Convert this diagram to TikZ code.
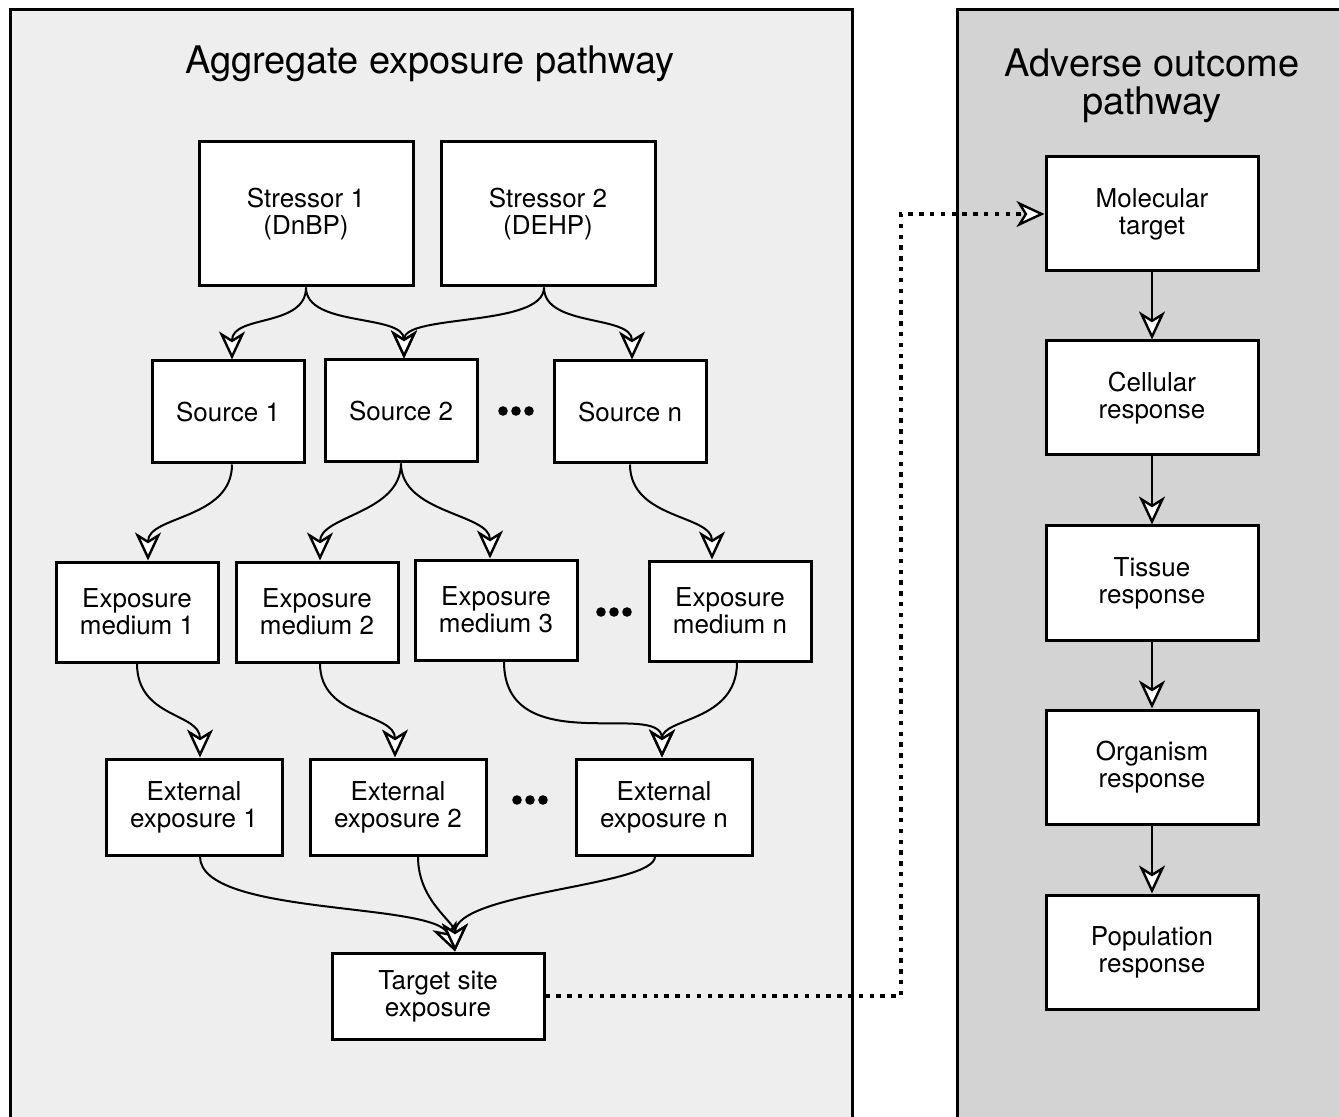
\documentclass[tikz,border=0pt]{standalone}
\usepackage{fontspec}
\setmainfont{TeX Gyre Heros}
\usetikzlibrary{arrows.meta}

\begin{document}
\begin{tikzpicture}[x=0.5pt, y=-0.5pt,
    box/.style={draw, line width=1.5pt, fill=white, align=center, inner sep=0pt,
      font=\fontsize{13}{13.5}\selectfont},
    flow/.style={line width=1pt, -{Stealth[fill=white, length=14pt, width=13pt, inset=4pt, line width=1.2pt]}},
    link/.style={flow, line width=2.2pt, dash pattern=on 2.2pt off 3.2pt},
    panel/.style={draw, line width=1.5pt},
    title/.style={align=center, font=\fontsize{19}{19}\selectfont}]
    \clip (0,0) rectangle (1339,1117);

    % Panels
    \draw[panel, fill={rgb,255:red,238;green,238;blue,238}] (10,10) rectangle (852,1140);
    \draw[panel, fill={rgb,255:red,211;green,211;blue,211}] (957,10) rectangle (1360,1140);
    \node[title] (aep) at (430,64) {Aggregate exposure pathway};
    \node[title] (aop) at (1152,86) {Adverse outcome\\pathway};

    % Stressors
    \node[box, minimum width=107pt, minimum height=72pt] (stressA) at (306,214) {Stressor 1\\(DnBP)};
    \node[box, minimum width=107pt, minimum height=72pt] (stressB) at (548,214) {Stressor 2\\(DEHP)};

    % Sources
    \node[box, minimum width=76pt, minimum height=51pt] (srcA) at (228,412) {Source 1};
    \node[box, minimum width=76pt, minimum height=51pt] (srcB) at (401,411) {Source 2};
    \node[box, minimum width=76pt, minimum height=51pt] (srcN) at (630,412) {Source n};

    % Exposure media
    \node[box, minimum width=81pt, minimum height=50pt] (medA) at (137,612) {Exposure\\medium 1};
    \node[box, minimum width=81pt, minimum height=50pt] (medB) at (317,612) {Exposure\\medium 2};
    \node[box, minimum width=81pt, minimum height=50pt] (medC) at (496,610) {Exposure\\medium 3};
    \node[box, minimum width=81pt, minimum height=50pt] (medN) at (730,611) {Exposure\\medium n};

    % External exposures
    \node[box, minimum width=88pt, minimum height=48pt] (extA) at (194,807) {External\\exposure 1};
    \node[box, minimum width=88pt, minimum height=48pt] (extB) at (398,807) {External\\exposure 2};
    \node[box, minimum width=88pt, minimum height=48pt] (extN) at (664,807) {External\\exposure n};

    % Target site
    \node[box, minimum width=106pt, minimum height=43pt] (target) at (438,996) {Target site\\exposure};

    % Dots
    \foreach \cx/\cy in {516/411, 614/612, 530/800}
      \foreach \d in {-13,0,13}
        \fill (\cx+\d,\cy) circle (2.4pt);

    % Adverse outcome chain
    \node[box, minimum width=106pt, minimum height=57pt] (molec) at (1152,214) {Molecular\\target};
    \node[box, minimum width=106pt, minimum height=57pt] (cell) at (1152,398) {Cellular\\response};
    \node[box, minimum width=106pt, minimum height=57pt] (tissue) at (1152,583) {Tissue\\response};
    \node[box, minimum width=106pt, minimum height=57pt] (organ) at (1152,767) {Organism\\response};
    \node[box, minimum width=106pt, minimum height=57pt] (popul) at (1152,952) {Population\\response};
    \draw[flow] (molec) -- (cell);
    \draw[flow] (cell) -- (tissue);
    \draw[flow] (tissue) -- (organ);
    \draw[flow] (organ) -- (popul);

    % Stressors to sources
    \draw[flow] (stressA.south) .. controls +(0,40) and +(0,-45) .. ([xshift=2pt]srcA.north);
    \draw[flow] (stressA.south) .. controls +(0,40) and +(0,-45) .. ([xshift=1.5pt]srcB.north);
    \draw[flow] ([xshift=-2pt]stressB.south) .. controls +(0,40) and +(0,-45) .. ([xshift=1.5pt]srcB.north);
    \draw[flow] ([xshift=-2pt]stressB.south) .. controls +(0,40) and +(0,-45) .. ([xshift=1pt]srcN.north);

    % Sources to media
    \draw[flow] ([xshift=2pt]srcA.south) .. controls +(0,55) and +(0,-45) .. ([xshift=5.5pt]medA.north);
    \draw[flow] (srcB.south) .. controls +(0,50) and +(0,-45) .. ([xshift=1.5pt]medB.north);
    \draw[flow] (srcB.south) .. controls +(0,50) and +(0,-45) .. ([xshift=-3pt]medC.north);
    \draw[flow] (srcN.south) .. controls +(0,55) and +(0,-45) .. ([xshift=-9pt]medN.north);

    % Media to external exposures
    \draw[flow] (medA.south) .. controls +(0,55) and +(0,-45) .. ([xshift=3pt]extA.north);
    \draw[flow] ([xshift=1.5pt]medB.south) .. controls +(0,55) and +(0,-45) .. ([xshift=-1.5pt]extB.north);
    \draw[flow] ([xshift=4pt]medC.south) .. controls +(0,100) and +(0,-58) .. ([xshift=-1pt]extN.north);
    \draw[flow] ([xshift=3.5pt]medN.south) .. controls +(0,60) and +(0,-40) .. ([xshift=-1pt]extN.north);

    % External exposures to target site
    \draw[flow] ([xshift=3pt]extA.south) .. controls +(0,60) and +(-20,-50) .. ([xshift=8.5pt]target.north);
    \draw[flow] ([xshift=10pt]extB.south) .. controls +(0,45) and +(0,-30) .. ([xshift=8.5pt]target.north);
    \draw[flow] ([xshift=-4.5pt]extN.south) .. controls +(0,30) and +(0,-60) .. ([xshift=8.5pt]target.north);

    % Link between pathways
    \coordinate (turn) at (901,600);
    \draw[link] (target.east) -| (turn) |- (molec.west);
\end{tikzpicture}
\end{document}
